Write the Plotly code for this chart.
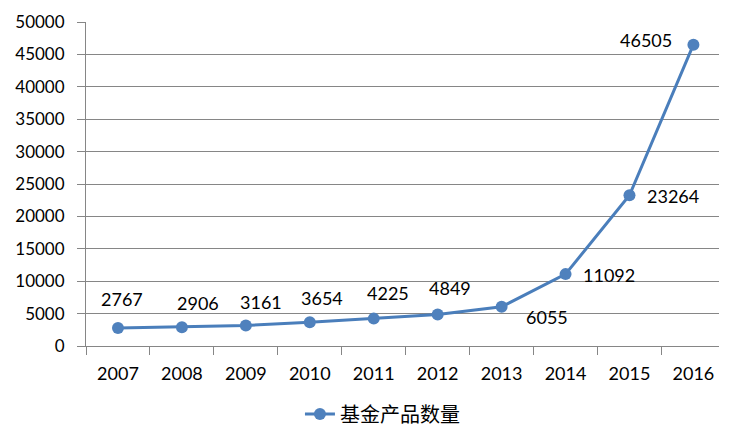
import plotly.graph_objects as go

years = ["2007", "2008", "2009", "2010", "2011", "2012", "2013", "2014", "2015", "2016"]
counts = [2767, 2906, 3161, 3654, 4225, 4849, 6055, 11092, 23264, 46505]
series_name = "基金产品数量"
y_ticks = [0, 5000, 10000, 15000, 20000, 25000, 30000, 35000, 40000, 45000, 50000]

# label offsets in pixels (style only)
label_dx = [4, 16, 15, 12, 14, 12, 45, 43, 44, -47]
label_dy = [29, 24, 24, 24, 26, 27, -10, -1, -1, 5]

blue = "#4A7EBB"
grid = "#868686"
font_lat = "Lato"

fig = go.Figure()
fig.add_trace(go.Scatter(
    x=years, y=counts, mode="lines+markers", name=series_name,
    line=dict(color=blue, width=3),
    marker=dict(color="#4F81BD", size=12, line=dict(width=0)),
))

for i, (y, dx, dy) in enumerate(zip(counts, label_dx, label_dy)):
    fig.add_annotation(x=i, y=y, xref="x", yref="y", text=str(y), showarrow=False,
                       xshift=dx, yshift=dy,
                       font=dict(family=font_lat, size=18, color="#000000"))

fig.update_layout(
    width=750, height=448,
    margin=dict(l=78, r=39, t=14, b=110),
    paper_bgcolor="white", plot_bgcolor="white",
    showlegend=True,
    legend=dict(orientation="h", x=0.338, xanchor="left", y=-0.21, yanchor="middle",
                font=dict(family="Noto Sans CJK SC", size=20, color="#000000"),
                itemwidth=30),
    xaxis=dict(type="category", range=[-0.5, 9.4], showgrid=False, automargin=False,
               showline=True, linecolor=grid, linewidth=1,
               ticks="outside", tickson="boundaries", ticklen=8, tickcolor=grid,
               tickfont=dict(family=font_lat, size=18, color="#000000"),
               ticklabelstandoff=11),
    yaxis=dict(range=[0, 50000], tickvals=y_ticks, tickformat="d", automargin=False,
               showgrid=True, gridcolor=grid, gridwidth=1,
               showline=True, linecolor=grid, linewidth=1, zeroline=False,
               ticks="outside", ticklen=8, tickcolor=grid,
               tickfont=dict(family=font_lat, size=17, color="#000000"),
               ticklabelstandoff=9),
)

fig.write_html("out.html")
